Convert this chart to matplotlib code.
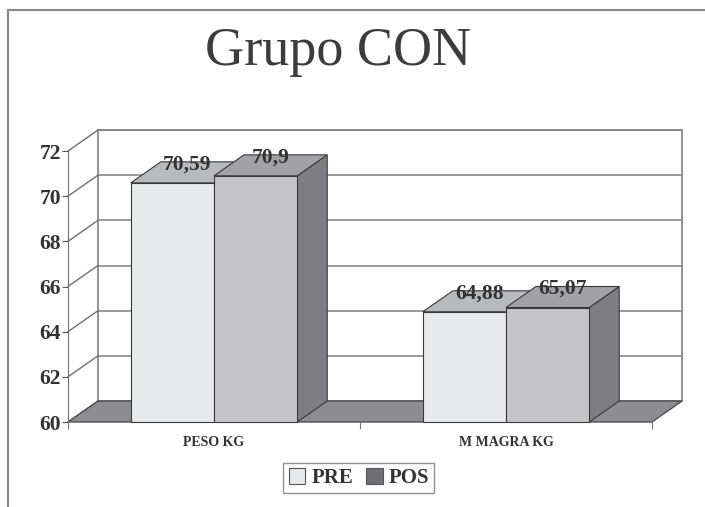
import matplotlib
matplotlib.use('Agg')
import matplotlib.pyplot as plt
from matplotlib.patches import Polygon, Patch
from matplotlib.lines import Line2D

# datos
categorias = ['PESO KG', 'M MAGRA KG']
series = ['PRE', 'POS']
pre = [70.59, 64.88]
pos = [70.9, 65.07]
etiq_pre = ['70,59', '64,88']
etiq_pos = ['70,9', '65,07']
yticks = [60, 62, 64, 66, 68, 70, 72]

# estilos
col_frente = ['#e8e9eb', '#c5c5c8']
col_top = ['#b9babd', '#a2a2a6']
col_lado = ['#7e7e82', '#7e7e82']
col_leyenda = ['#e8e9eb', '#6f6f73']
borde = '#3a3a3a'
SERIF = ['Liberation Serif', 'DejaVu Serif']
DX, DY = 30, 21      # profundidad en pixeles
ancho = 0.285

fig = plt.figure(figsize=(7.05, 5.07), dpi=100)
W, H = 705, 507
ax = fig.add_axes([68 / W, (H - 422) / H, (652 - 68) / W, (422 - 151) / H])
ax.set_xlim(0, len(categorias))
ax.set_ylim(yticks[0], yticks[-1])
ax.patch.set_visible(False)
for s in ['top', 'right', 'bottom']:
    ax.spines[s].set_visible(False)
ax.spines['left'].set_color('#707070')


def atras(x, y):
    px, py = ax.transData.transform((x, y))
    return tuple(ax.transData.inverted().transform((px + DX, py + DY)))


def poly(pts, fc, ec=borde, lw=0.8, z=3):
    ax.add_patch(Polygon(pts, closed=True, facecolor=fc, edgecolor=ec,
                         linewidth=lw, zorder=z, clip_on=False))


y0, y1 = yticks[0], yticks[-1]
n = len(categorias)

# pared del fondo
poly([atras(0, y0), atras(n, y0), atras(n, y1), atras(0, y1)], 'white',
     ec='#808080', lw=1.2, z=1)
for t in yticks:
    a, b = atras(0, t), atras(n, t)
    ax.add_line(Line2D([a[0], b[0]], [a[1], b[1]], color='#8a8a8a', lw=1.2,
                       zorder=1.5, clip_on=False))
    ax.add_line(Line2D([0, a[0]], [t, a[1]], color='#707070', lw=1,
                       zorder=1.5, clip_on=False))

# piso
poly([(0, y0), (n, y0), atras(n, y0), atras(0, y0)], '#8d8d91', ec='#505050',
     lw=1, z=2)

# barras 3D
for i in range(n):
    centro = i + 0.5
    for j, vals in enumerate([pre, pos]):
        v = vals[i]
        x0 = centro - ancho + j * ancho
        x1 = x0 + ancho
        poly([(x1, y0), atras(x1, y0), atras(x1, v), (x1, v)], col_lado[j], z=3 + j)
        poly([(x0, v), (x1, v), atras(x1, v), atras(x0, v)], col_top[j], z=3 + j)
        poly([(x0, y0), (x1, y0), (x1, v), (x0, v)], col_frente[j], z=3 + j)
        etq = [etiq_pre, etiq_pos][j][i]
        cx, cy = (x0 + x1) / 2, v
        px, py = ax.transData.transform((cx, cy))
        tx, ty = ax.transData.inverted().transform((px + DX / 2, py + DY / 2 + 8))
        ax.text(tx, ty, etq, ha='center', va='center', fontsize=15.5,
                fontweight='bold', family=SERIF, color='#333333', zorder=10)

# ejes
ax.set_yticks(yticks)
ax.set_yticklabels([str(t) for t in yticks], fontsize=15.5, fontweight='bold',
                   family=SERIF, color='#333333')
ax.tick_params(axis='y', length=4, width=0.8, color='#555555', pad=1)
ax.set_xticks(range(n + 1))
ax.set_xticklabels([])
ax.tick_params(axis='x', which='major', length=5, width=0.8, color='#707070')
ax.set_xticks([i + 0.5 for i in range(n)], minor=True)
ax.set_xticklabels(categorias, minor=True, fontsize=10, fontweight='bold',
                   family=SERIF, color='#333333')
ax.tick_params(axis='x', which='minor', length=0, pad=10)

# titulo
fig.text(338 / W, (H - 65) / H, 'Grupo CON', ha='center', va='baseline',
         fontsize=39, family=SERIF, color='#3c3c3c')

# leyenda
handles = [Patch(facecolor=col_leyenda[k], edgecolor='#555555', linewidth=0.8,
                 label=series[k]) for k in range(len(series))]
leg = fig.legend(handles=handles, loc='center', bbox_to_anchor=(359 / W, (H - 478) / H),
                 ncol=2, frameon=True, fancybox=False, handlelength=0.8,
                 handleheight=0.8, handletextpad=0.3, columnspacing=0.6,
                 borderpad=0.25, borderaxespad=0,
                 prop={'family': SERIF, 'weight': 'bold', 'size': 15})
leg.get_frame().set_edgecolor('#777777')
leg.get_frame().set_linewidth(1)
for t in leg.get_texts():
    t.set_color('#333333')

# marco
fig.add_artist(Line2D([8 / W, 1], [(H - 10) / H] * 2, transform=fig.transFigure,
                      color='#888888', lw=1.5))
fig.add_artist(Line2D([8 / W] * 2, [0, (H - 10) / H], transform=fig.transFigure,
                      color='#888888', lw=1.5))

fig.savefig('out.png', dpi=100)
